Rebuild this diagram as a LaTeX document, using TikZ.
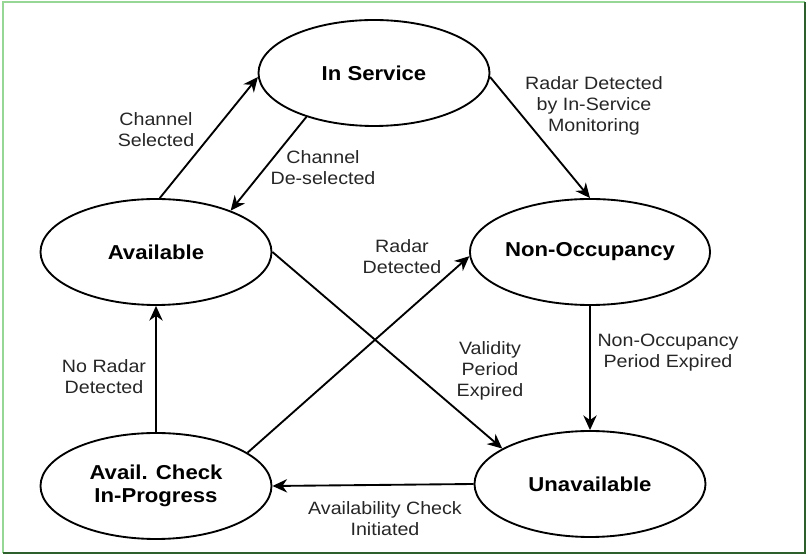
\documentclass[tikz,border=0pt]{standalone}
\usepackage{fontspec}
\setmainfont{Liberation Sans}[FakeStretch=1.1]
\usepackage{xcolor}
\usepackage{tikz}
\usetikzlibrary{shapes.geometric,arrows.meta}
\definecolor{framelight}{RGB}{150,215,150}
\definecolor{framedark}{RGB}{45,95,45}

\begin{document}
\begin{tikzpicture}[x=0.75pt,y=-0.75pt,line width=1.4pt,
	state/.style={ellipse,draw,minimum width=173.25pt,minimum height=79.5pt,inner sep=0pt,align=center,font=\bfseries\fontsize{15.1}{17.25}\selectfont},
	lbl/.style={align=center,text=black!85,font=\fontsize{13.4}{15.75}\selectfont},
	trans/.style={-{Stealth[length=11pt,width=10pt,inset=3.5pt]}}]
			\useasboundingbox (0,0) rectangle (808,555);
			\draw[framelight,line width=1.2pt] (3,553) -- (3,2) -- (805,2);
			\draw[framedark,line width=1.5pt] (805,2) -- (805,553) -- (3,553);
			\node[state] (inservice) at (374,73) {In Service};
			\node[state] (available) at (156,252) {Available};
			\node[state] (nonocc) at (590,252) {Non-Occupancy};
			\node[state] (unavail) at (590,484) {Unavailable};
			\node[state] (availcheck) at (156,486) {Avail. Check\\In-Progress};
			\draw[trans] (available.86) -- (inservice.182);
			\draw[trans] (inservice.213) -- (available.29);
			\draw[trans] (inservice.358) -- (nonocc.north);
			\draw[trans] (available.east) -- (unavail.158);
			\draw[trans] (nonocc.south) -- (unavail.north);
			\draw[trans] (unavail.west) -- (availcheck.east);
			\draw[trans] (availcheck.north) -- (available.south);
			\draw[trans] (availcheck.20) -- (nonocc.182);
			\node[lbl] (lselected) at (156,130) {Channel\\Selected};
			\node[lbl] (ldeselected) at (323,168) {Channel\\De-selected};
			\node[lbl] (lmonitor) at (594,106) {Radar Detected\\by In-Service\\Monitoring};
			\node[lbl] (lradar) at (402,257) {Radar\\Detected};
			\node[lbl] (lvalidity) at (490,371) {Validity\\Period\\Expired};
			\node[lbl] (lperiod) at (668,353) {Non-Occupancy\\Period Expired};
			\node[lbl] (lnoradar) at (104,377) {No Radar\\Detected};
			\node[lbl] (lcheck) at (385,519) {Availability Check\\Initiated};
		\end{tikzpicture}
\end{document}
